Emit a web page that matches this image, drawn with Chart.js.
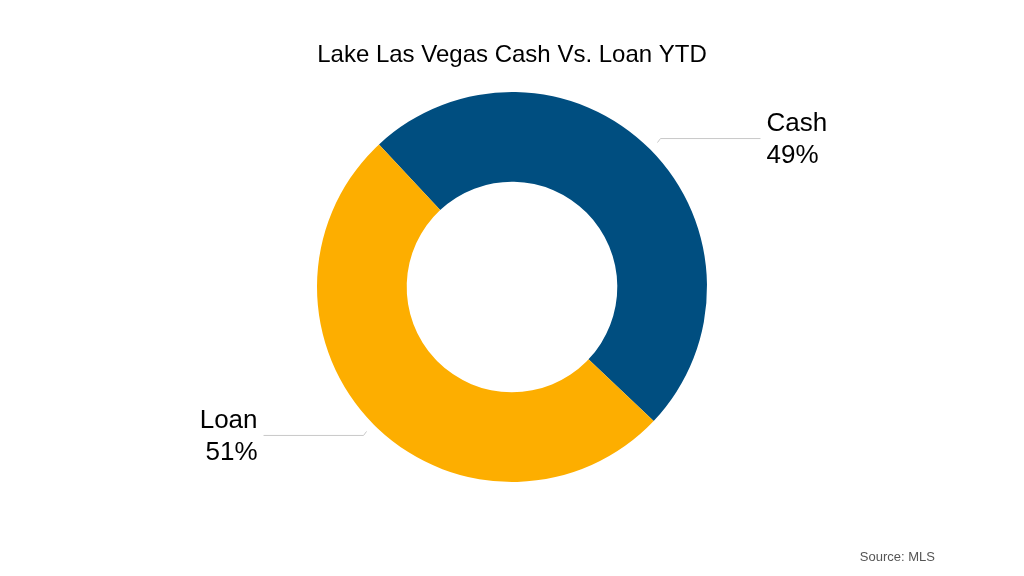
<!DOCTYPE html>
<html>
<head>
<meta charset="utf-8">
<script src="https://cdn.jsdelivr.net/npm/chart.js@4"></script>
<style>
  html, body { margin: 0; padding: 0; background: #fff; }
  canvas { display: block; }
</style>
</head>
<body>
<canvas id="chart" width="1024" height="576"></canvas>
<script>
const labels = ['Cash', 'Loan'];
const shares = [49, 51];
const colors = ['#004E80', '#FDAE00'];
const titleText = 'Lake Las Vegas Cash Vs. Loan YTD';
const sourceText = 'Source: MLS';

const FONT = '"Liberation Sans", Arial, Helvetica, sans-serif';

// Leader lines + two-line labels outside each slice
const sliceLabels = {
    id: 'sliceLabels',
    afterDatasetsDraw(chart) {
        const ctx = chart.ctx;
        const meta = chart.getDatasetMeta(0);
        meta.data.forEach((arc, i) => {
            const p = arc.getProps(['x', 'y', 'startAngle', 'endAngle', 'outerRadius'], true);
            const mid = (p.startAngle + p.endAngle) / 2;
            const r = p.outerRadius + 10;
            const sx = p.x + Math.cos(mid) * r;
            const sy = p.y + Math.sin(mid) * r;
            const right = Math.cos(mid) >= 0;
            const dir = right ? 1 : -1;
            const kx = sx + dir * 3;
            const ky = sy + (Math.sin(mid) < 0 ? -4 : 4);
            const ex = kx + dir * 100;

            ctx.save();
            ctx.strokeStyle = '#c8c8c8';
            ctx.lineWidth = 1;
            ctx.beginPath();
            ctx.moveTo(sx, sy);
            ctx.lineTo(kx, ky);
            ctx.lineTo(ex, ky);
            ctx.stroke();

            ctx.fillStyle = '#000';
            ctx.font = '26px ' + FONT;
            ctx.textBaseline = 'middle';
            ctx.textAlign = right ? 'left' : 'right';
            const tx = ex + dir * 6;
            ctx.fillText(labels[i], tx, ky - 15);
            ctx.fillText(shares[i] + '%', tx, ky + 17);
            ctx.restore();
        });
    }
};

const sourceNote = {
    id: 'sourceNote',
    afterDraw(chart) {
        const ctx = chart.ctx;
        ctx.save();
        ctx.fillStyle = '#555';
        ctx.font = '13px ' + FONT;
        ctx.textAlign = 'right';
        ctx.textBaseline = 'middle';
        ctx.fillText(sourceText, 935, 557);
        ctx.restore();
    }
};

new Chart(document.getElementById('chart'), {
    type: 'doughnut',
    data: {
        labels,
        datasets: [{
            data: shares,
            backgroundColor: colors,
            borderWidth: 0,
        }],
    },
    options: {
        responsive: false,
        animation: false,
        rotation: -43,
        cutout: '54%',
        layout: { padding: { top: 0, bottom: 94, left: 0, right: 0 } },
        plugins: {
            legend: { display: false },
            tooltip: { enabled: false },
            title: {
                display: true,
                text: titleText,
                color: '#000',
                font: { family: FONT, size: 24, weight: 'normal', lineHeight: 1.2 },
                padding: { top: 40.6, bottom: 22.6 },
            },
        },
    },
    plugins: [sliceLabels, sourceNote],
});
</script>
</body>
</html>
